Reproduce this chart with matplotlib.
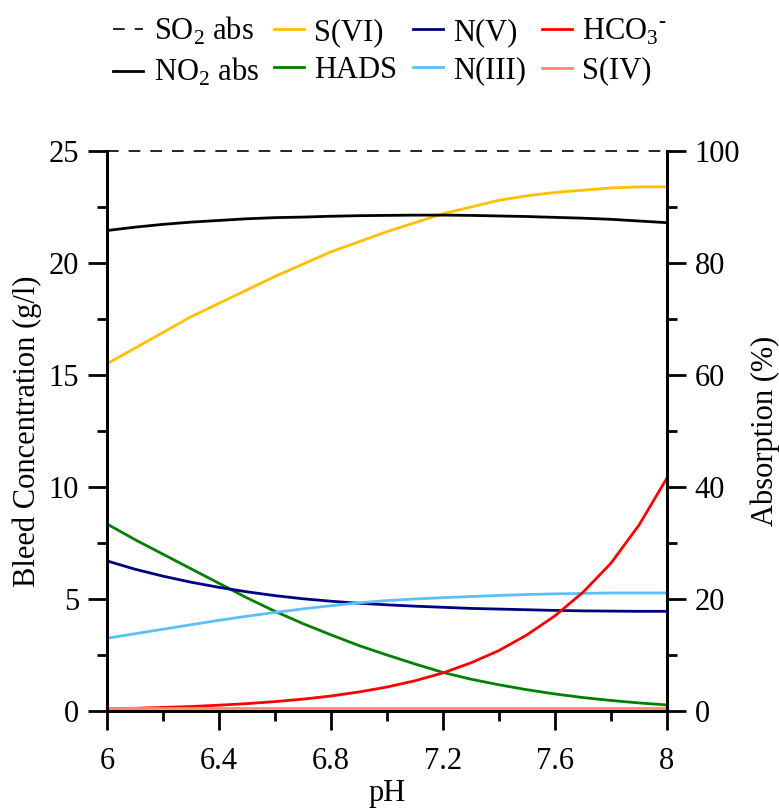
import numpy as np
import matplotlib.pyplot as plt
from matplotlib.ticker import MultipleLocator

plt.rcParams['font.family'] = ['Liberation Serif', 'DejaVu Serif']
plt.rcParams['mathtext.fontset'] = 'custom'
plt.rcParams['mathtext.rm'] = 'Liberation Serif'

# pH sweep
ph = np.array([6.0, 6.1, 6.2, 6.3, 6.4, 6.5, 6.6, 6.7, 6.8, 6.9, 7.0,
               7.1, 7.2, 7.3, 7.4, 7.5, 7.6, 7.7, 7.8, 7.9, 8.0])

# bleed concentrations (g/l)
s_vi = np.array([15.5, 16.2, 16.9, 17.6, 18.2, 18.8, 19.4, 19.95, 20.5, 20.95, 21.4,
                 21.8, 22.2, 22.5, 22.8, 23.0, 23.15, 23.25, 23.35, 23.4, 23.4])
hads = np.array([8.35, 7.65, 7.0, 6.35, 5.7, 5.05, 4.45, 3.9, 3.4, 2.92, 2.5,
                 2.1, 1.72, 1.42, 1.17, 0.95, 0.76, 0.6, 0.47, 0.36, 0.27])
n_v = np.array([6.7, 6.33, 6.02, 5.75, 5.52, 5.32, 5.15, 5.01, 4.9, 4.81, 4.74,
                4.68, 4.63, 4.58, 4.55, 4.52, 4.49, 4.47, 4.46, 4.45, 4.45])
n_iii = np.array([3.25, 3.45, 3.65, 3.85, 4.05, 4.23, 4.4, 4.56, 4.7, 4.83, 4.93,
                  5.0, 5.06, 5.11, 5.16, 5.2, 5.23, 5.25, 5.27, 5.27, 5.27])
hco3 = np.array([0.1, 0.12, 0.16, 0.2, 0.26, 0.33, 0.42, 0.53, 0.67, 0.85, 1.07,
                 1.35, 1.7, 2.15, 2.7, 3.4, 4.25, 5.3, 6.6, 8.3, 10.4])
s_iv = np.array([0.12, 0.12, 0.12, 0.12, 0.12, 0.12, 0.12, 0.12, 0.12, 0.12, 0.12,
                 0.12, 0.12, 0.12, 0.12, 0.12, 0.12, 0.12, 0.12, 0.12, 0.12])

# absorption (%)
so2_abs = np.array([100, 100, 100, 100, 100, 100, 100, 100, 100, 100, 100,
                    100, 100, 100, 100, 100, 100, 100, 100, 100, 100])
no2_abs = np.array([85.8, 86.4, 86.9, 87.3, 87.6, 87.9, 88.1, 88.2, 88.35, 88.45, 88.5,
                    88.55, 88.55, 88.5, 88.4, 88.3, 88.15, 88.0, 87.8, 87.5, 87.2])

fs = 22
fig = plt.figure(figsize=(7.79, 8.08), dpi=100)
ax = fig.add_axes([107 / 779, 1 - 711 / 808, 560 / 779, 560 / 808])
ax2 = ax.twinx()

lw = 2.0
h_so2, = ax2.plot(ph, so2_abs, color='black', ls=(0, (7, 6)), lw=1.2, clip_on=False)
h_no2, = ax2.plot(ph, no2_abs, color='black', lw=lw)
h_svi, = ax.plot(ph, s_vi, color='#FFC000', lw=lw)
h_hads, = ax.plot(ph, hads, color='#008000', lw=lw)
h_nv, = ax.plot(ph, n_v, color='#000080', lw=lw)
h_niii, = ax.plot(ph, n_iii, color='#5BC0F8', lw=lw)
h_hco3, = ax.plot(ph, hco3, color='#FF0000', lw=lw)
h_siv, = ax.plot(ph, s_iv, color='#FF8C69', lw=lw)

ax.set_xlim(6, 8)
ax.set_ylim(0, 25)
ax2.set_ylim(0, 100)

ax.xaxis.set_major_locator(MultipleLocator(0.4))
ax.xaxis.set_minor_locator(MultipleLocator(0.2))
ax.yaxis.set_major_locator(MultipleLocator(5))
ax.yaxis.set_minor_locator(MultipleLocator(2.5))
ax2.yaxis.set_major_locator(MultipleLocator(20))
ax2.yaxis.set_minor_locator(MultipleLocator(10))
ax.xaxis.set_major_formatter(lambda v, p: f'{v:g}')

for a in (ax, ax2):
    a.spines['top'].set_visible(False)
    for s in a.spines.values():
        s.set_linewidth(2.0)
    a.tick_params(which='major', direction='out', length=14, width=2.0, labelsize=fs, pad=6)
    a.tick_params(which='minor', direction='out', length=7, width=2.0)
ax.tick_params(axis='x', which='major', pad=12)

ax.set_xlabel('pH', fontsize=fs, va='center')
ax.xaxis.set_label_coords(0.5, -0.148)
ax.set_ylabel('Bleed Concentration (g/l)', fontsize=fs)
ax.yaxis.label.set_va('center')
ax.yaxis.set_label_coords(-0.142, 0.5)
ax2.set_ylabel('Absorption (%)', fontsize=fs)
ax2.yaxis.label.set_va('center')
ax2.yaxis.set_label_coords(1.176, 0.5)

handles = [h_so2, h_no2, h_svi, h_hads, h_nv, h_niii, h_hco3, h_siv]
labels = ['SO$_2$ abs', 'NO$_2$ abs', 'S(VI)', 'HADS', 'N(V)', 'N(III)',
          r'HCO$_3$$^{\text{-}}$', 'S(IV)']
fig.legend(handles, labels, ncol=4, loc='upper center', bbox_to_anchor=(390 / 779, 1 - 15 / 808),
           frameon=False, fontsize=fs, handlelength=1.0, handletextpad=0.33,
           columnspacing=0.5, labelspacing=0.3, borderaxespad=0, borderpad=0)

fig.savefig('out.png', dpi=100)
